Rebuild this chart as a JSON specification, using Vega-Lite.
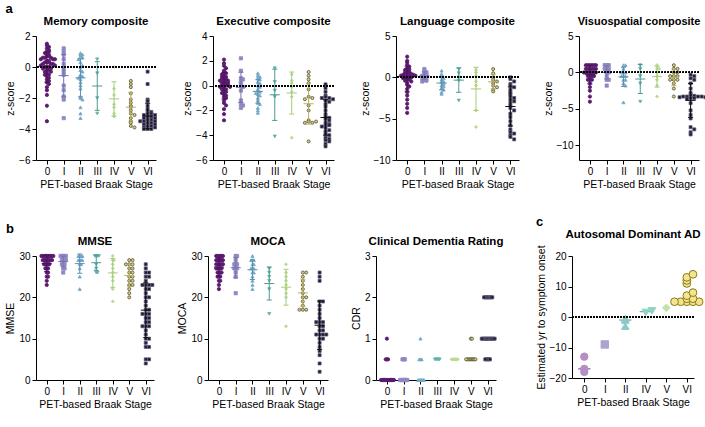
{
"$schema":"https://vega.github.io/schema/vega-lite/v6.json",
"padding":{"left":5,"top":2,"right":2,"bottom":2},
"background":"white",
"config":{"font":"Liberation Sans","view":{"stroke":null},
"axis":{"grid":false,"labelOverlap":false,"domainColor":"#000","tickColor":"#000","labelColor":"#000","titleColor":"#000","labelFontSize":10,"titleFontSize":10.5,"titleFontWeight":"normal","tickSize":4,"labelPadding":2,"titlePadding":3,"domainWidth":1,"tickWidth":1},
"title":{"fontSize":11.5,"fontWeight":"bold","color":"#000","frame":"group","anchor":"middle","offset":4},
"legend":{"disable":true}},
"datasets":{"d":[
{"p":"m","s":"0","v":1.5},{"p":"m","s":"0","v":1.4},{"p":"m","s":"0","v":1.3},{"p":"m","s":"0","v":1.2},{"p":"m","s":"0","v":1.1},{"p":"m","s":"0","v":1.0},{"p":"m","s":"0","v":1.0},{"p":"m","s":"0","v":0.9},{"p":"m","s":"0","v":0.8},{"p":"m","s":"0","v":0.8},{"p":"m","s":"0","v":0.7},{"p":"m","s":"0","v":0.7},{"p":"m","s":"0","v":0.6},{"p":"m","s":"0","v":0.6},{"p":"m","s":"0","v":0.6},{"p":"m","s":"0","v":0.5},{"p":"m","s":"0","v":0.5},{"p":"m","s":"0","v":0.5},{"p":"m","s":"0","v":0.4},{"p":"m","s":"0","v":0.4},{"p":"m","s":"0","v":0.3},{"p":"m","s":"0","v":0.3},{"p":"m","s":"0","v":0.3},{"p":"m","s":"0","v":0.2},{"p":"m","s":"0","v":0.2},{"p":"m","s":"0","v":0.2},{"p":"m","s":"0","v":0.1},{"p":"m","s":"0","v":0.1},{"p":"m","s":"0","v":0.0},{"p":"m","s":"0","v":0.0},{"p":"m","s":"0","v":0.0},{"p":"m","s":"0","v":-0.1},{"p":"m","s":"0","v":-0.1},{"p":"m","s":"0","v":-0.2},{"p":"m","s":"0","v":-0.2},{"p":"m","s":"0","v":-0.3},{"p":"m","s":"0","v":-0.3},{"p":"m","s":"0","v":-0.4},{"p":"m","s":"0","v":-0.5},{"p":"m","s":"0","v":-0.5},{"p":"m","s":"0","v":-0.6},{"p":"m","s":"0","v":-0.7},{"p":"m","s":"0","v":-0.8},{"p":"m","s":"0","v":-0.9},{"p":"m","s":"0","v":-1.0},{"p":"m","s":"0","v":-1.1},{"p":"m","s":"0","v":-1.3},{"p":"m","s":"0","v":-1.5},{"p":"m","s":"0","v":-1.8},{"p":"m","s":"0","v":-2.5},{"p":"m","s":"0","v":-3.5},
{"p":"m","s":"I","v":1.2},{"p":"m","s":"I","v":1.0},{"p":"m","s":"I","v":0.8},{"p":"m","s":"I","v":0.5},{"p":"m","s":"I","v":0.2},{"p":"m","s":"I","v":-0.1},{"p":"m","s":"I","v":-0.3},{"p":"m","s":"I","v":-0.5},{"p":"m","s":"I","v":-1.2},{"p":"m","s":"I","v":-1.5},{"p":"m","s":"I","v":-1.9},{"p":"m","s":"I","v":-2.1},{"p":"m","s":"I","v":-3.3},
{"p":"m","s":"II","v":0.9},{"p":"m","s":"II","v":0.8},{"p":"m","s":"II","v":0.8},{"p":"m","s":"II","v":0.7},{"p":"m","s":"II","v":0.6},{"p":"m","s":"II","v":0.5},{"p":"m","s":"II","v":0.3},{"p":"m","s":"II","v":0.1},{"p":"m","s":"II","v":0.0},{"p":"m","s":"II","v":-0.2},{"p":"m","s":"II","v":-0.3},{"p":"m","s":"II","v":-0.5},{"p":"m","s":"II","v":-0.6},{"p":"m","s":"II","v":-0.6},{"p":"m","s":"II","v":-0.7},{"p":"m","s":"II","v":-0.8},{"p":"m","s":"II","v":-1.0},{"p":"m","s":"II","v":-1.2},{"p":"m","s":"II","v":-1.4},{"p":"m","s":"II","v":-1.9},{"p":"m","s":"II","v":-2.0},{"p":"m","s":"II","v":-2.1},{"p":"m","s":"II","v":-2.6},{"p":"m","s":"II","v":-3.0},{"p":"m","s":"II","v":-3.3},
{"p":"m","s":"III","v":0.5},{"p":"m","s":"III","v":-0.4},{"p":"m","s":"III","v":-2.0},{"p":"m","s":"III","v":-3.0},
{"p":"m","s":"IV","v":0.0},{"p":"m","s":"IV","v":-1.4},{"p":"m","s":"IV","v":-1.8},{"p":"m","s":"IV","v":-2.4},{"p":"m","s":"IV","v":-2.6},{"p":"m","s":"IV","v":-3.0},{"p":"m","s":"IV","v":-3.2},
{"p":"m","s":"V","v":-0.9},{"p":"m","s":"V","v":-1.1},{"p":"m","s":"V","v":-1.3},{"p":"m","s":"V","v":-1.7},{"p":"m","s":"V","v":-2.1},{"p":"m","s":"V","v":-2.3},{"p":"m","s":"V","v":-2.5},{"p":"m","s":"V","v":-2.6},{"p":"m","s":"V","v":-2.8},{"p":"m","s":"V","v":-3.0},{"p":"m","s":"V","v":-3.1},{"p":"m","s":"V","v":-3.3},{"p":"m","s":"V","v":-3.5},{"p":"m","s":"V","v":-3.6},{"p":"m","s":"V","v":-3.8},{"p":"m","s":"V","v":-3.9},
{"p":"m","s":"VI","v":-0.3},{"p":"m","s":"VI","v":-1.1},{"p":"m","s":"VI","v":-2.1},{"p":"m","s":"VI","v":-2.2},{"p":"m","s":"VI","v":-2.5},{"p":"m","s":"VI","v":-2.7},{"p":"m","s":"VI","v":-2.8},{"p":"m","s":"VI","v":-2.9},{"p":"m","s":"VI","v":-3.0},{"p":"m","s":"VI","v":-3.0},{"p":"m","s":"VI","v":-3.1},{"p":"m","s":"VI","v":-3.1},{"p":"m","s":"VI","v":-3.2},{"p":"m","s":"VI","v":-3.2},{"p":"m","s":"VI","v":-3.3},{"p":"m","s":"VI","v":-3.3},{"p":"m","s":"VI","v":-3.4},{"p":"m","s":"VI","v":-3.4},{"p":"m","s":"VI","v":-3.5},{"p":"m","s":"VI","v":-3.5},{"p":"m","s":"VI","v":-3.5},{"p":"m","s":"VI","v":-3.6},{"p":"m","s":"VI","v":-3.6},{"p":"m","s":"VI","v":-3.7},{"p":"m","s":"VI","v":-3.7},{"p":"m","s":"VI","v":-3.8},{"p":"m","s":"VI","v":-3.8},{"p":"m","s":"VI","v":-3.9},{"p":"m","s":"VI","v":-3.9},{"p":"m","s":"VI","v":-4.0},{"p":"m","s":"VI","v":-4.0},{"p":"m","s":"VI","v":-4.0},

{"p":"e","s":"0","v":2.1},{"p":"e","s":"0","v":1.8},{"p":"e","s":"0","v":1.6},{"p":"e","s":"0","v":1.4},{"p":"e","s":"0","v":1.2},{"p":"e","s":"0","v":1.1},{"p":"e","s":"0","v":1.0},{"p":"e","s":"0","v":0.9},{"p":"e","s":"0","v":0.8},{"p":"e","s":"0","v":0.7},{"p":"e","s":"0","v":0.7},{"p":"e","s":"0","v":0.6},{"p":"e","s":"0","v":0.5},{"p":"e","s":"0","v":0.5},{"p":"e","s":"0","v":0.4},{"p":"e","s":"0","v":0.4},{"p":"e","s":"0","v":0.3},{"p":"e","s":"0","v":0.3},{"p":"e","s":"0","v":0.2},{"p":"e","s":"0","v":0.2},{"p":"e","s":"0","v":0.1},{"p":"e","s":"0","v":0.1},{"p":"e","s":"0","v":0.0},{"p":"e","s":"0","v":0.0},{"p":"e","s":"0","v":-0.1},{"p":"e","s":"0","v":-0.1},{"p":"e","s":"0","v":-0.2},{"p":"e","s":"0","v":-0.3},{"p":"e","s":"0","v":-0.3},{"p":"e","s":"0","v":-0.4},{"p":"e","s":"0","v":-0.5},{"p":"e","s":"0","v":-0.6},{"p":"e","s":"0","v":-0.7},{"p":"e","s":"0","v":-0.8},{"p":"e","s":"0","v":-0.9},{"p":"e","s":"0","v":-1.0},{"p":"e","s":"0","v":-1.2},{"p":"e","s":"0","v":-1.4},{"p":"e","s":"0","v":-1.6},{"p":"e","s":"0","v":-1.9},{"p":"e","s":"0","v":-2.3},{"p":"e","s":"0","v":-2.8},
{"p":"e","s":"I","v":2.2},{"p":"e","s":"I","v":1.2},{"p":"e","s":"I","v":0.6},{"p":"e","s":"I","v":0.5},{"p":"e","s":"I","v":0.3},{"p":"e","s":"I","v":0.1},{"p":"e","s":"I","v":-0.1},{"p":"e","s":"I","v":-0.4},{"p":"e","s":"I","v":-1.2},{"p":"e","s":"I","v":-1.5},{"p":"e","s":"I","v":-1.8},{"p":"e","s":"I","v":-1.6},
{"p":"e","s":"II","v":1.0},{"p":"e","s":"II","v":0.8},{"p":"e","s":"II","v":0.7},{"p":"e","s":"II","v":0.6},{"p":"e","s":"II","v":0.5},{"p":"e","s":"II","v":0.3},{"p":"e","s":"II","v":0.2},{"p":"e","s":"II","v":0.0},{"p":"e","s":"II","v":-0.1},{"p":"e","s":"II","v":-0.3},{"p":"e","s":"II","v":-0.4},{"p":"e","s":"II","v":-0.5},{"p":"e","s":"II","v":-0.6},{"p":"e","s":"II","v":-0.7},{"p":"e","s":"II","v":-0.8},{"p":"e","s":"II","v":-1.0},{"p":"e","s":"II","v":-1.2},{"p":"e","s":"II","v":-1.4},{"p":"e","s":"II","v":-1.5},{"p":"e","s":"II","v":-1.8},{"p":"e","s":"II","v":-2.0},{"p":"e","s":"II","v":-2.2},
{"p":"e","s":"III","v":1.4},{"p":"e","s":"III","v":0.3},{"p":"e","s":"III","v":-0.4},{"p":"e","s":"III","v":-0.9},{"p":"e","s":"III","v":-4.1},
{"p":"e","s":"IV","v":0.9},{"p":"e","s":"IV","v":0.4},{"p":"e","s":"IV","v":0.2},{"p":"e","s":"IV","v":-0.1},{"p":"e","s":"IV","v":-0.5},{"p":"e","s":"IV","v":-0.9},{"p":"e","s":"IV","v":-4.2},
{"p":"e","s":"V","v":1.1},{"p":"e","s":"V","v":0.8},{"p":"e","s":"V","v":0.5},{"p":"e","s":"V","v":0.2},{"p":"e","s":"V","v":-0.3},{"p":"e","s":"V","v":-0.9},{"p":"e","s":"V","v":-1.0},{"p":"e","s":"V","v":-1.1},{"p":"e","s":"V","v":-1.6},{"p":"e","s":"V","v":-2.0},{"p":"e","s":"V","v":-2.8},{"p":"e","s":"V","v":-2.9},{"p":"e","s":"V","v":-3.0},{"p":"e","s":"V","v":-3.0},{"p":"e","s":"V","v":-2.9},{"p":"e","s":"V","v":-4.5},
{"p":"e","s":"VI","v":0.1},{"p":"e","s":"VI","v":-0.2},{"p":"e","s":"VI","v":-0.5},{"p":"e","s":"VI","v":-0.8},{"p":"e","s":"VI","v":-0.9},{"p":"e","s":"VI","v":-1.0},{"p":"e","s":"VI","v":-1.0},{"p":"e","s":"VI","v":-1.1},{"p":"e","s":"VI","v":-1.2},{"p":"e","s":"VI","v":-1.3},{"p":"e","s":"VI","v":-1.5},{"p":"e","s":"VI","v":-1.7},{"p":"e","s":"VI","v":-2.0},{"p":"e","s":"VI","v":-2.3},{"p":"e","s":"VI","v":-2.5},{"p":"e","s":"VI","v":-2.6},{"p":"e","s":"VI","v":-2.7},{"p":"e","s":"VI","v":-2.8},{"p":"e","s":"VI","v":-3.0},{"p":"e","s":"VI","v":-3.1},{"p":"e","s":"VI","v":-3.2},{"p":"e","s":"VI","v":-3.2},{"p":"e","s":"VI","v":-3.3},{"p":"e","s":"VI","v":-3.4},{"p":"e","s":"VI","v":-3.6},{"p":"e","s":"VI","v":-3.7},{"p":"e","s":"VI","v":-3.9},{"p":"e","s":"VI","v":-4.0},{"p":"e","s":"VI","v":-4.2},{"p":"e","s":"VI","v":-4.3},{"p":"e","s":"VI","v":-4.4},{"p":"e","s":"VI","v":-4.5},{"p":"e","s":"VI","v":-4.7},{"p":"e","s":"VI","v":-4.9},

{"p":"l","s":"0","v":2.5},{"p":"l","s":"0","v":2.0},{"p":"l","s":"0","v":1.8},{"p":"l","s":"0","v":1.5},{"p":"l","s":"0","v":1.3},{"p":"l","s":"0","v":1.1},{"p":"l","s":"0","v":1.0},{"p":"l","s":"0","v":0.9},{"p":"l","s":"0","v":0.8},{"p":"l","s":"0","v":0.7},{"p":"l","s":"0","v":0.6},{"p":"l","s":"0","v":0.5},{"p":"l","s":"0","v":0.5},{"p":"l","s":"0","v":0.4},{"p":"l","s":"0","v":0.4},{"p":"l","s":"0","v":0.3},{"p":"l","s":"0","v":0.3},{"p":"l","s":"0","v":0.2},{"p":"l","s":"0","v":0.2},{"p":"l","s":"0","v":0.1},{"p":"l","s":"0","v":0.1},{"p":"l","s":"0","v":0.0},{"p":"l","s":"0","v":0.0},{"p":"l","s":"0","v":-0.1},{"p":"l","s":"0","v":-0.2},{"p":"l","s":"0","v":-0.3},{"p":"l","s":"0","v":-0.4},{"p":"l","s":"0","v":-0.5},{"p":"l","s":"0","v":-0.7},{"p":"l","s":"0","v":-0.9},{"p":"l","s":"0","v":-1.1},{"p":"l","s":"0","v":-1.4},{"p":"l","s":"0","v":-1.8},{"p":"l","s":"0","v":-2.2},{"p":"l","s":"0","v":-2.7},{"p":"l","s":"0","v":-3.2},{"p":"l","s":"0","v":-3.7},{"p":"l","s":"0","v":-4.3},
{"p":"l","s":"I","v":1.0},{"p":"l","s":"I","v":0.8},{"p":"l","s":"I","v":0.6},{"p":"l","s":"I","v":0.5},{"p":"l","s":"I","v":0.3},{"p":"l","s":"I","v":0.2},{"p":"l","s":"I","v":0.1},{"p":"l","s":"I","v":0.0},{"p":"l","s":"I","v":-0.1},{"p":"l","s":"I","v":-0.3},{"p":"l","s":"I","v":-0.4},{"p":"l","s":"I","v":-0.5},
{"p":"l","s":"II","v":0.8},{"p":"l","s":"II","v":0.4},{"p":"l","s":"II","v":0.1},{"p":"l","s":"II","v":-0.1},{"p":"l","s":"II","v":-0.3},{"p":"l","s":"II","v":-0.5},{"p":"l","s":"II","v":-0.6},{"p":"l","s":"II","v":-0.8},{"p":"l","s":"II","v":-1.0},{"p":"l","s":"II","v":-1.1},{"p":"l","s":"II","v":-1.3},{"p":"l","s":"II","v":-1.5},{"p":"l","s":"II","v":-1.8},{"p":"l","s":"II","v":-2.0},
{"p":"l","s":"III","v":1.0},{"p":"l","s":"III","v":0.5},{"p":"l","s":"III","v":0.0},{"p":"l","s":"III","v":-0.4},{"p":"l","s":"III","v":-2.8},
{"p":"l","s":"IV","v":0.9},{"p":"l","s":"IV","v":0.6},{"p":"l","s":"IV","v":0.2},{"p":"l","s":"IV","v":-0.5},{"p":"l","s":"IV","v":-1.0},{"p":"l","s":"IV","v":-4.0},{"p":"l","s":"IV","v":-6.0},
{"p":"l","s":"V","v":1.0},{"p":"l","s":"V","v":0.5},{"p":"l","s":"V","v":0.0},{"p":"l","s":"V","v":-0.3},{"p":"l","s":"V","v":-0.5},{"p":"l","s":"V","v":-0.7},{"p":"l","s":"V","v":-1.0},{"p":"l","s":"V","v":-1.2},{"p":"l","s":"V","v":-1.5},{"p":"l","s":"V","v":-1.7},
{"p":"l","s":"VI","v":0.0},{"p":"l","s":"VI","v":-0.2},{"p":"l","s":"VI","v":-0.5},{"p":"l","s":"VI","v":-0.8},{"p":"l","s":"VI","v":-1.0},{"p":"l","s":"VI","v":-1.2},{"p":"l","s":"VI","v":-1.5},{"p":"l","s":"VI","v":-1.8},{"p":"l","s":"VI","v":-2.0},{"p":"l","s":"VI","v":-2.3},{"p":"l","s":"VI","v":-2.5},{"p":"l","s":"VI","v":-2.7},{"p":"l","s":"VI","v":-2.9},{"p":"l","s":"VI","v":-3.1},{"p":"l","s":"VI","v":-3.4},{"p":"l","s":"VI","v":-3.7},{"p":"l","s":"VI","v":-4.0},{"p":"l","s":"VI","v":-4.4},{"p":"l","s":"VI","v":-4.8},{"p":"l","s":"VI","v":-5.3},{"p":"l","s":"VI","v":-5.8},{"p":"l","s":"VI","v":-6.3},{"p":"l","s":"VI","v":-6.6},{"p":"l","s":"VI","v":-6.8},{"p":"l","s":"VI","v":-7.0},{"p":"l","s":"VI","v":-7.2},{"p":"l","s":"VI","v":-7.5},

{"p":"v","s":"0","v":1},{"p":"v","s":"0","v":1},{"p":"v","s":"0","v":1},{"p":"v","s":"0","v":1},{"p":"v","s":"0","v":1},{"p":"v","s":"0","v":1},{"p":"v","s":"0","v":0.5},{"p":"v","s":"0","v":0.5},{"p":"v","s":"0","v":0.5},{"p":"v","s":"0","v":0.5},{"p":"v","s":"0","v":0.5},{"p":"v","s":"0","v":0.5},{"p":"v","s":"0","v":0},{"p":"v","s":"0","v":0},{"p":"v","s":"0","v":0},{"p":"v","s":"0","v":0},{"p":"v","s":"0","v":0},{"p":"v","s":"0","v":0},{"p":"v","s":"0","v":0},{"p":"v","s":"0","v":-0.5},{"p":"v","s":"0","v":-0.5},{"p":"v","s":"0","v":-0.5},{"p":"v","s":"0","v":-0.5},{"p":"v","s":"0","v":-1},{"p":"v","s":"0","v":-1},{"p":"v","s":"0","v":-1},{"p":"v","s":"0","v":-1.5},{"p":"v","s":"0","v":-2},{"p":"v","s":"0","v":-2.5},{"p":"v","s":"0","v":-3.3},{"p":"v","s":"0","v":-4},
{"p":"v","s":"I","v":1},{"p":"v","s":"I","v":1},{"p":"v","s":"I","v":1},{"p":"v","s":"I","v":0.5},{"p":"v","s":"I","v":0.5},{"p":"v","s":"I","v":0.5},{"p":"v","s":"I","v":0},{"p":"v","s":"I","v":0},{"p":"v","s":"I","v":-0.5},{"p":"v","s":"I","v":-1},{"p":"v","s":"I","v":-1},{"p":"v","s":"I","v":-1.8},
{"p":"v","s":"II","v":1},{"p":"v","s":"II","v":1},{"p":"v","s":"II","v":0.5},{"p":"v","s":"II","v":0},{"p":"v","s":"II","v":0},{"p":"v","s":"II","v":0},{"p":"v","s":"II","v":-0.5},{"p":"v","s":"II","v":-0.5},{"p":"v","s":"II","v":-0.5},{"p":"v","s":"II","v":-1},{"p":"v","s":"II","v":-1},{"p":"v","s":"II","v":-1.5},{"p":"v","s":"II","v":-1.8},{"p":"v","s":"II","v":-4.1},
{"p":"v","s":"III","v":1},{"p":"v","s":"III","v":0.5},{"p":"v","s":"III","v":-0.5},{"p":"v","s":"III","v":-1.5},{"p":"v","s":"III","v":-4},
{"p":"v","s":"IV","v":1},{"p":"v","s":"IV","v":0.5},{"p":"v","s":"IV","v":0.5},{"p":"v","s":"IV","v":0},{"p":"v","s":"IV","v":-0.5},{"p":"v","s":"IV","v":-1},{"p":"v","s":"IV","v":-1.8},{"p":"v","s":"IV","v":-3.3},
{"p":"v","s":"V","v":1},{"p":"v","s":"V","v":0.5},{"p":"v","s":"V","v":0.5},{"p":"v","s":"V","v":0},{"p":"v","s":"V","v":0},{"p":"v","s":"V","v":-0.5},{"p":"v","s":"V","v":-0.5},{"p":"v","s":"V","v":-0.5},{"p":"v","s":"V","v":-1},{"p":"v","s":"V","v":-1},{"p":"v","s":"V","v":-1},{"p":"v","s":"V","v":-1.5},{"p":"v","s":"V","v":-2.2},{"p":"v","s":"V","v":-3.3},
{"p":"v","s":"VI","v":-0.3},{"p":"v","s":"VI","v":-0.5},{"p":"v","s":"VI","v":-0.8},{"p":"v","s":"VI","v":-1},{"p":"v","s":"VI","v":-1.5},{"p":"v","s":"VI","v":-2.2},{"p":"v","s":"VI","v":-2.8},{"p":"v","s":"VI","v":-3.1},{"p":"v","s":"VI","v":-3.2},{"p":"v","s":"VI","v":-3.3},{"p":"v","s":"VI","v":-3.3},{"p":"v","s":"VI","v":-3.3},{"p":"v","s":"VI","v":-3.3},{"p":"v","s":"VI","v":-3.4},{"p":"v","s":"VI","v":-3.4},{"p":"v","s":"VI","v":-3.5},{"p":"v","s":"VI","v":-3.5},{"p":"v","s":"VI","v":-3.6},{"p":"v","s":"VI","v":-4.2},{"p":"v","s":"VI","v":-5.2},{"p":"v","s":"VI","v":-5.8},{"p":"v","s":"VI","v":-6.3},{"p":"v","s":"VI","v":-7.5},{"p":"v","s":"VI","v":-7.8},{"p":"v","s":"VI","v":-8.2},{"p":"v","s":"VI","v":-8.5},

{"p":"mm","s":"0","v":30},{"p":"mm","s":"0","v":30},{"p":"mm","s":"0","v":30},{"p":"mm","s":"0","v":30},{"p":"mm","s":"0","v":30},{"p":"mm","s":"0","v":30},{"p":"mm","s":"0","v":30},{"p":"mm","s":"0","v":30},{"p":"mm","s":"0","v":30},{"p":"mm","s":"0","v":30},{"p":"mm","s":"0","v":29},{"p":"mm","s":"0","v":29},{"p":"mm","s":"0","v":29},{"p":"mm","s":"0","v":29},{"p":"mm","s":"0","v":29},{"p":"mm","s":"0","v":29},{"p":"mm","s":"0","v":29},{"p":"mm","s":"0","v":29},{"p":"mm","s":"0","v":28},{"p":"mm","s":"0","v":28},{"p":"mm","s":"0","v":28},{"p":"mm","s":"0","v":28},{"p":"mm","s":"0","v":28},{"p":"mm","s":"0","v":27},{"p":"mm","s":"0","v":27},{"p":"mm","s":"0","v":27},{"p":"mm","s":"0","v":26},{"p":"mm","s":"0","v":26},{"p":"mm","s":"0","v":25},{"p":"mm","s":"0","v":25},{"p":"mm","s":"0","v":24},{"p":"mm","s":"0","v":23},
{"p":"mm","s":"I","v":30},{"p":"mm","s":"I","v":30},{"p":"mm","s":"I","v":30},{"p":"mm","s":"I","v":30},{"p":"mm","s":"I","v":30},{"p":"mm","s":"I","v":29},{"p":"mm","s":"I","v":29},{"p":"mm","s":"I","v":29},{"p":"mm","s":"I","v":29},{"p":"mm","s":"I","v":28},{"p":"mm","s":"I","v":28},{"p":"mm","s":"I","v":28},{"p":"mm","s":"I","v":27},{"p":"mm","s":"I","v":27},{"p":"mm","s":"I","v":26},
{"p":"mm","s":"II","v":30},{"p":"mm","s":"II","v":30},{"p":"mm","s":"II","v":30},{"p":"mm","s":"II","v":30},{"p":"mm","s":"II","v":29},{"p":"mm","s":"II","v":29},{"p":"mm","s":"II","v":29},{"p":"mm","s":"II","v":29},{"p":"mm","s":"II","v":28},{"p":"mm","s":"II","v":28},{"p":"mm","s":"II","v":27},{"p":"mm","s":"II","v":25},{"p":"mm","s":"II","v":22},
{"p":"mm","s":"III","v":30},{"p":"mm","s":"III","v":30},{"p":"mm","s":"III","v":30},{"p":"mm","s":"III","v":30},{"p":"mm","s":"III","v":28},{"p":"mm","s":"III","v":27},{"p":"mm","s":"III","v":26},{"p":"mm","s":"III","v":26},
{"p":"mm","s":"IV","v":30},{"p":"mm","s":"IV","v":29},{"p":"mm","s":"IV","v":29},{"p":"mm","s":"IV","v":28},{"p":"mm","s":"IV","v":27},{"p":"mm","s":"IV","v":26},{"p":"mm","s":"IV","v":25},{"p":"mm","s":"IV","v":24},{"p":"mm","s":"IV","v":22},{"p":"mm","s":"IV","v":19},
{"p":"mm","s":"V","v":29},{"p":"mm","s":"V","v":29},{"p":"mm","s":"V","v":28},{"p":"mm","s":"V","v":28},{"p":"mm","s":"V","v":28},{"p":"mm","s":"V","v":27},{"p":"mm","s":"V","v":27},{"p":"mm","s":"V","v":26},{"p":"mm","s":"V","v":26},{"p":"mm","s":"V","v":25},{"p":"mm","s":"V","v":25},{"p":"mm","s":"V","v":24},{"p":"mm","s":"V","v":24},{"p":"mm","s":"V","v":23},{"p":"mm","s":"V","v":23},{"p":"mm","s":"V","v":22},{"p":"mm","s":"V","v":21},{"p":"mm","s":"V","v":20},
{"p":"mm","s":"VI","v":28},{"p":"mm","s":"VI","v":27},{"p":"mm","s":"VI","v":26},{"p":"mm","s":"VI","v":26},{"p":"mm","s":"VI","v":25},{"p":"mm","s":"VI","v":25},{"p":"mm","s":"VI","v":24},{"p":"mm","s":"VI","v":23},{"p":"mm","s":"VI","v":23},{"p":"mm","s":"VI","v":23},{"p":"mm","s":"VI","v":23},{"p":"mm","s":"VI","v":22},{"p":"mm","s":"VI","v":22},{"p":"mm","s":"VI","v":21},{"p":"mm","s":"VI","v":20},{"p":"mm","s":"VI","v":20},{"p":"mm","s":"VI","v":19},{"p":"mm","s":"VI","v":18},{"p":"mm","s":"VI","v":17},{"p":"mm","s":"VI","v":17},{"p":"mm","s":"VI","v":16},{"p":"mm","s":"VI","v":16},{"p":"mm","s":"VI","v":16},{"p":"mm","s":"VI","v":15},{"p":"mm","s":"VI","v":15},{"p":"mm","s":"VI","v":14},{"p":"mm","s":"VI","v":14},{"p":"mm","s":"VI","v":13},{"p":"mm","s":"VI","v":13},{"p":"mm","s":"VI","v":13},{"p":"mm","s":"VI","v":12},{"p":"mm","s":"VI","v":11},{"p":"mm","s":"VI","v":10},{"p":"mm","s":"VI","v":10},{"p":"mm","s":"VI","v":9},{"p":"mm","s":"VI","v":8},{"p":"mm","s":"VI","v":8},{"p":"mm","s":"VI","v":5},{"p":"mm","s":"VI","v":5},{"p":"mm","s":"VI","v":4},

{"p":"mo","s":"0","v":30},{"p":"mo","s":"0","v":30},{"p":"mo","s":"0","v":30},{"p":"mo","s":"0","v":30},{"p":"mo","s":"0","v":30},{"p":"mo","s":"0","v":30},{"p":"mo","s":"0","v":29},{"p":"mo","s":"0","v":29},{"p":"mo","s":"0","v":29},{"p":"mo","s":"0","v":29},{"p":"mo","s":"0","v":29},{"p":"mo","s":"0","v":29},{"p":"mo","s":"0","v":28},{"p":"mo","s":"0","v":28},{"p":"mo","s":"0","v":28},{"p":"mo","s":"0","v":28},{"p":"mo","s":"0","v":28},{"p":"mo","s":"0","v":28},{"p":"mo","s":"0","v":27},{"p":"mo","s":"0","v":27},{"p":"mo","s":"0","v":27},{"p":"mo","s":"0","v":27},{"p":"mo","s":"0","v":27},{"p":"mo","s":"0","v":26},{"p":"mo","s":"0","v":26},{"p":"mo","s":"0","v":26},{"p":"mo","s":"0","v":26},{"p":"mo","s":"0","v":25},{"p":"mo","s":"0","v":25},{"p":"mo","s":"0","v":25},{"p":"mo","s":"0","v":24},{"p":"mo","s":"0","v":24},{"p":"mo","s":"0","v":23},{"p":"mo","s":"0","v":22},
{"p":"mo","s":"I","v":30},{"p":"mo","s":"I","v":30},{"p":"mo","s":"I","v":29},{"p":"mo","s":"I","v":28},{"p":"mo","s":"I","v":28},{"p":"mo","s":"I","v":28},{"p":"mo","s":"I","v":27},{"p":"mo","s":"I","v":27},{"p":"mo","s":"I","v":27},{"p":"mo","s":"I","v":26},{"p":"mo","s":"I","v":25},{"p":"mo","s":"I","v":21},
{"p":"mo","s":"II","v":30},{"p":"mo","s":"II","v":29},{"p":"mo","s":"II","v":29},{"p":"mo","s":"II","v":29},{"p":"mo","s":"II","v":28},{"p":"mo","s":"II","v":28},{"p":"mo","s":"II","v":27},{"p":"mo","s":"II","v":27},{"p":"mo","s":"II","v":27},{"p":"mo","s":"II","v":26},{"p":"mo","s":"II","v":26},{"p":"mo","s":"II","v":25},{"p":"mo","s":"II","v":24},{"p":"mo","s":"II","v":23},{"p":"mo","s":"II","v":22},
{"p":"mo","s":"III","v":27},{"p":"mo","s":"III","v":26},{"p":"mo","s":"III","v":25},{"p":"mo","s":"III","v":24},{"p":"mo","s":"III","v":22},{"p":"mo","s":"III","v":16},
{"p":"mo","s":"IV","v":28},{"p":"mo","s":"IV","v":26},{"p":"mo","s":"IV","v":25},{"p":"mo","s":"IV","v":24},{"p":"mo","s":"IV","v":23},{"p":"mo","s":"IV","v":22},{"p":"mo","s":"IV","v":21},{"p":"mo","s":"IV","v":20},{"p":"mo","s":"IV","v":13},
{"p":"mo","s":"V","v":26},{"p":"mo","s":"V","v":26},{"p":"mo","s":"V","v":25},{"p":"mo","s":"V","v":24},{"p":"mo","s":"V","v":23},{"p":"mo","s":"V","v":22},{"p":"mo","s":"V","v":21},{"p":"mo","s":"V","v":20},{"p":"mo","s":"V","v":20},{"p":"mo","s":"V","v":19},{"p":"mo","s":"V","v":18},{"p":"mo","s":"V","v":17},{"p":"mo","s":"V","v":17},{"p":"mo","s":"V","v":17},
{"p":"mo","s":"VI","v":26},{"p":"mo","s":"VI","v":25},{"p":"mo","s":"VI","v":24},{"p":"mo","s":"VI","v":19},{"p":"mo","s":"VI","v":19},{"p":"mo","s":"VI","v":18},{"p":"mo","s":"VI","v":17},{"p":"mo","s":"VI","v":16},{"p":"mo","s":"VI","v":15},{"p":"mo","s":"VI","v":14},{"p":"mo","s":"VI","v":14},{"p":"mo","s":"VI","v":14},{"p":"mo","s":"VI","v":13},{"p":"mo","s":"VI","v":13},{"p":"mo","s":"VI","v":12},{"p":"mo","s":"VI","v":12},{"p":"mo","s":"VI","v":11},{"p":"mo","s":"VI","v":11},{"p":"mo","s":"VI","v":11},{"p":"mo","s":"VI","v":11},{"p":"mo","s":"VI","v":10},{"p":"mo","s":"VI","v":10},{"p":"mo","s":"VI","v":9},{"p":"mo","s":"VI","v":8},{"p":"mo","s":"VI","v":7},{"p":"mo","s":"VI","v":6},{"p":"mo","s":"VI","v":4},{"p":"mo","s":"VI","v":2},

{"p":"cd","s":"0","v":0},{"p":"cd","s":"0","v":0},{"p":"cd","s":"0","v":0},{"p":"cd","s":"0","v":0},{"p":"cd","s":"0","v":0},{"p":"cd","s":"0","v":0},{"p":"cd","s":"0","v":0},{"p":"cd","s":"0","v":0},{"p":"cd","s":"0","v":0},{"p":"cd","s":"0","v":0},{"p":"cd","s":"0","v":0},{"p":"cd","s":"0","v":0},{"p":"cd","s":"0","v":0.5},{"p":"cd","s":"0","v":0.5},{"p":"cd","s":"0","v":0.5},{"p":"cd","s":"0","v":1},
{"p":"cd","s":"I","v":0},{"p":"cd","s":"I","v":0},{"p":"cd","s":"I","v":0},{"p":"cd","s":"I","v":0},{"p":"cd","s":"I","v":0},{"p":"cd","s":"I","v":0},{"p":"cd","s":"I","v":0},{"p":"cd","s":"I","v":0.5},{"p":"cd","s":"I","v":0.5},{"p":"cd","s":"I","v":0.5},
{"p":"cd","s":"II","v":0},{"p":"cd","s":"II","v":0},{"p":"cd","s":"II","v":0},{"p":"cd","s":"II","v":0},{"p":"cd","s":"II","v":0},{"p":"cd","s":"II","v":0},{"p":"cd","s":"II","v":0.5},{"p":"cd","s":"II","v":0.5},{"p":"cd","s":"II","v":0.5},{"p":"cd","s":"II","v":1},
{"p":"cd","s":"III","v":0.5},{"p":"cd","s":"III","v":0.5},{"p":"cd","s":"III","v":0.5},{"p":"cd","s":"III","v":0.5},{"p":"cd","s":"III","v":0.5},
{"p":"cd","s":"IV","v":0.5},{"p":"cd","s":"IV","v":0.5},{"p":"cd","s":"IV","v":0.5},{"p":"cd","s":"IV","v":0.5},{"p":"cd","s":"IV","v":0.5},{"p":"cd","s":"IV","v":0.5},
{"p":"cd","s":"V","v":0.5},{"p":"cd","s":"V","v":0.5},{"p":"cd","s":"V","v":0.5},{"p":"cd","s":"V","v":0.5},{"p":"cd","s":"V","v":0.5},{"p":"cd","s":"V","v":0.5},{"p":"cd","s":"V","v":0.5},{"p":"cd","s":"V","v":0.5},{"p":"cd","s":"V","v":0.5},{"p":"cd","s":"V","v":1},{"p":"cd","s":"V","v":1},
{"p":"cd","s":"VI","v":0.5},{"p":"cd","s":"VI","v":0.5},{"p":"cd","s":"VI","v":0.5},{"p":"cd","s":"VI","v":0.5},{"p":"cd","s":"VI","v":0.5},{"p":"cd","s":"VI","v":1},{"p":"cd","s":"VI","v":1},{"p":"cd","s":"VI","v":1},{"p":"cd","s":"VI","v":1},{"p":"cd","s":"VI","v":1},{"p":"cd","s":"VI","v":1},{"p":"cd","s":"VI","v":1},{"p":"cd","s":"VI","v":1},{"p":"cd","s":"VI","v":1},{"p":"cd","s":"VI","v":1},{"p":"cd","s":"VI","v":1},{"p":"cd","s":"VI","v":1},{"p":"cd","s":"VI","v":2},{"p":"cd","s":"VI","v":2},{"p":"cd","s":"VI","v":2},{"p":"cd","s":"VI","v":2},{"p":"cd","s":"VI","v":2},{"p":"cd","s":"VI","v":2},{"p":"cd","s":"VI","v":2},{"p":"cd","s":"VI","v":2},

{"p":"ad","s":"0","v":-13},{"p":"ad","s":"0","v":-17},{"p":"ad","s":"0","v":-18},
{"p":"ad","s":"I","v":-9},
{"p":"ad","s":"II","v":-0.5},{"p":"ad","s":"II","v":-1},{"p":"ad","s":"II","v":-3},
{"p":"ad","s":"IV","v":1.5},{"p":"ad","s":"IV","v":2},
{"p":"ad","s":"V","v":3},
{"p":"ad","s":"VI","v":5},{"p":"ad","s":"VI","v":5},{"p":"ad","s":"VI","v":5},{"p":"ad","s":"VI","v":5},{"p":"ad","s":"VI","v":5},{"p":"ad","s":"VI","v":6},{"p":"ad","s":"VI","v":6},{"p":"ad","s":"VI","v":7},{"p":"ad","s":"VI","v":8},{"p":"ad","s":"VI","v":11},{"p":"ad","s":"VI","v":12},{"p":"ad","s":"VI","v":13},{"p":"ad","s":"VI","v":14}
]},
"resolve":{"scale":{"fill":"independent","stroke":"independent","shape":"independent","size":"independent","color":"independent"}},
"spacing":26,
"vconcat":[
{"title":{"text":"a","anchor":"start","frame":"bounds","fontSize":13,"offset":0},
"spacing":23,
"resolve":{"scale":{"fill":"independent","stroke":"independent","shape":"independent","size":"independent","color":"independent"}},
"hconcat":[
{"width":120,"height":124,"title":"Memory composite","data":{"name":"d"},
"transform":[{"filter":"datum.p=='m'"},{"calculate":"indexof(['0','I','II','III','IV','V','VI'],datum.s)","as":"i"}],
"layer":[
{"transform":[{"calculate":"round(datum.v/0.2)","as":"yb"},{"window":[{"op":"row_number","as":"k"}],"groupby":["s","yb"]},{"calculate":"datum.i+(datum.k%2==0?1:-1)*floor(datum.k/2)*(datum.s=='V'||datum.s=='VI'?0.22:0.12)","as":"xp"}],
"mark":{"type":"point","filled":true,"strokeWidth":0.8,"opacity":1},
"encoding":{
"x":{"field":"xp","type":"quantitative","scale":{"domain":[-0.65,6.5],"nice":false,"zero":false},"axis":{"values":[0,1,2,3,4,5,6],"tickCount":20,"labelExpr":"['0','I','II','III','IV','V','VI'][datum.value]","title":"PET-based Braak Stage"}},
"y":{"field":"v","type":"quantitative","scale":{"domain":[-6,2],"nice":false,"zero":false},"axis":{"values":[-6,-4,-2,0,2],"tickCount":20,"format":"d","title":"z-score"}},
"shape":{"field":"s","type":"nominal","scale":{"domain":["0","I","II","III","IV","V","VI"],"range":["circle","square","triangle-up","triangle-down","diamond","circle","square"]}},
"fill":{"field":"s","type":"nominal","scale":{"domain":["0","I","II","III","IV","V","VI"],"range":["#5b1a6e","#8f89c3","#74a8c6","#5fb4aa","#b7da8e","#d4cd8c","#1d1430"]}},
"stroke":{"field":"s","type":"nominal","scale":{"domain":["0","I","II","III","IV","V","VI"],"range":["#5b1a6e","#8f89c3","#74a8c6","#5fb4aa","#b7da8e","#56512c","#5e5874"]}},
"size":{"field":"s","type":"ordinal","scale":{"domain":["0","I","II","III","IV","V","VI"],"range":[11,9,9,9,9,18,22]}}}},
{"transform":[{"aggregate":[{"op":"mean","field":"v","as":"m"},{"op":"stdev","field":"v","as":"sd"}],"groupby":["s","i"]},{"calculate":"datum.m-datum.sd","as":"lo"},{"calculate":"datum.m+datum.sd","as":"hi"}],
"layer":[
{"mark":{"type":"rule","strokeWidth":1},"encoding":{"x":{"field":"i","type":"quantitative"},"y":{"field":"lo","type":"quantitative"},"y2":{"field":"hi"},"color":{"field":"s","type":"nominal","scale":{"domain":["0","I","II","III","IV","V","VI"],"range":["#4a135c","#7873b0","#5b90b0","#4a9b92","#a5cc7c","#b8b060","#111111"]}}}},
{"transform":[{"fold":["lo","m","hi"]},{"calculate":"datum.i-(datum.key=='m'?0.3:0.15)","as":"xa"},{"calculate":"datum.i+(datum.key=='m'?0.3:0.15)","as":"xb"}],"mark":{"type":"rule","strokeWidth":1},"encoding":{"x":{"field":"xa","type":"quantitative"},"x2":{"field":"xb"},"y":{"field":"value","type":"quantitative"},"color":{"field":"s","type":"nominal","scale":{"domain":["0","I","II","III","IV","V","VI"],"range":["#4a135c","#7873b0","#5b90b0","#4a9b92","#a5cc7c","#b8b060","#111111"]}}}}]},
{"mark":{"type":"rule","strokeDash":[1.5,1.5],"color":"#000","strokeWidth":1},"encoding":{"y":{"datum":0}}}
]},
{"width":121,"height":124,"title":"Executive composite","data":{"name":"d"},
"transform":[{"filter":"datum.p=='e'"},{"calculate":"indexof(['0','I','II','III','IV','V','VI'],datum.s)","as":"i"}],
"layer":[
{"transform":[{"calculate":"round(datum.v/0.25)","as":"yb"},{"window":[{"op":"row_number","as":"k"}],"groupby":["s","yb"]},{"calculate":"datum.i+(datum.k%2==0?1:-1)*floor(datum.k/2)*(datum.s=='V'||datum.s=='VI'?0.22:0.12)","as":"xp"}],
"mark":{"type":"point","filled":true,"strokeWidth":0.8,"opacity":1},
"encoding":{
"x":{"field":"xp","type":"quantitative","scale":{"domain":[-0.65,6.5],"nice":false,"zero":false},"axis":{"values":[0,1,2,3,4,5,6],"tickCount":20,"labelExpr":"['0','I','II','III','IV','V','VI'][datum.value]","title":"PET-based Braak Stage"}},
"y":{"field":"v","type":"quantitative","scale":{"domain":[-6,4],"nice":false,"zero":false},"axis":{"values":[-6,-4,-2,0,2,4],"tickCount":20,"format":"d","title":"z-score"}},
"shape":{"field":"s","type":"nominal","scale":{"domain":["0","I","II","III","IV","V","VI"],"range":["circle","square","triangle-up","triangle-down","diamond","circle","square"]}},
"fill":{"field":"s","type":"nominal","scale":{"domain":["0","I","II","III","IV","V","VI"],"range":["#5b1a6e","#8f89c3","#74a8c6","#5fb4aa","#b7da8e","#d4cd8c","#1d1430"]}},
"stroke":{"field":"s","type":"nominal","scale":{"domain":["0","I","II","III","IV","V","VI"],"range":["#5b1a6e","#8f89c3","#74a8c6","#5fb4aa","#b7da8e","#56512c","#5e5874"]}},
"size":{"field":"s","type":"ordinal","scale":{"domain":["0","I","II","III","IV","V","VI"],"range":[11,9,9,9,9,18,22]}}}},
{"transform":[{"aggregate":[{"op":"mean","field":"v","as":"m"},{"op":"stdev","field":"v","as":"sd"}],"groupby":["s","i"]},{"calculate":"datum.m-datum.sd","as":"lo"},{"calculate":"datum.m+datum.sd","as":"hi"}],
"layer":[
{"mark":{"type":"rule","strokeWidth":1},"encoding":{"x":{"field":"i","type":"quantitative"},"y":{"field":"lo","type":"quantitative"},"y2":{"field":"hi"},"color":{"field":"s","type":"nominal","scale":{"domain":["0","I","II","III","IV","V","VI"],"range":["#4a135c","#7873b0","#5b90b0","#4a9b92","#a5cc7c","#b8b060","#111111"]}}}},
{"transform":[{"fold":["lo","m","hi"]},{"calculate":"datum.i-(datum.key=='m'?0.3:0.15)","as":"xa"},{"calculate":"datum.i+(datum.key=='m'?0.3:0.15)","as":"xb"}],"mark":{"type":"rule","strokeWidth":1},"encoding":{"x":{"field":"xa","type":"quantitative"},"x2":{"field":"xb"},"y":{"field":"value","type":"quantitative"},"color":{"field":"s","type":"nominal","scale":{"domain":["0","I","II","III","IV","V","VI"],"range":["#4a135c","#7873b0","#5b90b0","#4a9b92","#a5cc7c","#b8b060","#111111"]}}}}]},
{"mark":{"type":"rule","strokeDash":[1.5,1.5],"color":"#000","strokeWidth":1},"encoding":{"y":{"datum":0}}}
]},
{"width":123,"height":124,"title":"Language composite","data":{"name":"d"},
"transform":[{"filter":"datum.p=='l'"},{"calculate":"indexof(['0','I','II','III','IV','V','VI'],datum.s)","as":"i"}],
"layer":[
{"transform":[{"calculate":"round(datum.v/0.35)","as":"yb"},{"window":[{"op":"row_number","as":"k"}],"groupby":["s","yb"]},{"calculate":"datum.i+(datum.k%2==0?1:-1)*floor(datum.k/2)*(datum.s=='V'||datum.s=='VI'?0.22:0.12)","as":"xp"}],
"mark":{"type":"point","filled":true,"strokeWidth":0.8,"opacity":1},
"encoding":{
"x":{"field":"xp","type":"quantitative","scale":{"domain":[-0.65,6.5],"nice":false,"zero":false},"axis":{"values":[0,1,2,3,4,5,6],"tickCount":20,"labelExpr":"['0','I','II','III','IV','V','VI'][datum.value]","title":"PET-based Braak Stage"}},
"y":{"field":"v","type":"quantitative","scale":{"domain":[-10,5],"nice":false,"zero":false},"axis":{"values":[-10,-5,0,5],"tickCount":20,"format":"d","title":"z-score"}},
"shape":{"field":"s","type":"nominal","scale":{"domain":["0","I","II","III","IV","V","VI"],"range":["circle","square","triangle-up","triangle-down","diamond","circle","square"]}},
"fill":{"field":"s","type":"nominal","scale":{"domain":["0","I","II","III","IV","V","VI"],"range":["#5b1a6e","#8f89c3","#74a8c6","#5fb4aa","#b7da8e","#d4cd8c","#1d1430"]}},
"stroke":{"field":"s","type":"nominal","scale":{"domain":["0","I","II","III","IV","V","VI"],"range":["#5b1a6e","#8f89c3","#74a8c6","#5fb4aa","#b7da8e","#56512c","#5e5874"]}},
"size":{"field":"s","type":"ordinal","scale":{"domain":["0","I","II","III","IV","V","VI"],"range":[11,9,9,9,9,18,22]}}}},
{"transform":[{"aggregate":[{"op":"mean","field":"v","as":"m"},{"op":"stdev","field":"v","as":"sd"}],"groupby":["s","i"]},{"calculate":"datum.m-datum.sd","as":"lo"},{"calculate":"datum.m+datum.sd","as":"hi"}],
"layer":[
{"mark":{"type":"rule","strokeWidth":1},"encoding":{"x":{"field":"i","type":"quantitative"},"y":{"field":"lo","type":"quantitative"},"y2":{"field":"hi"},"color":{"field":"s","type":"nominal","scale":{"domain":["0","I","II","III","IV","V","VI"],"range":["#4a135c","#7873b0","#5b90b0","#4a9b92","#a5cc7c","#b8b060","#111111"]}}}},
{"transform":[{"fold":["lo","m","hi"]},{"calculate":"datum.i-(datum.key=='m'?0.3:0.15)","as":"xa"},{"calculate":"datum.i+(datum.key=='m'?0.3:0.15)","as":"xb"}],"mark":{"type":"rule","strokeWidth":1},"encoding":{"x":{"field":"xa","type":"quantitative"},"x2":{"field":"xb"},"y":{"field":"value","type":"quantitative"},"color":{"field":"s","type":"nominal","scale":{"domain":["0","I","II","III","IV","V","VI"],"range":["#4a135c","#7873b0","#5b90b0","#4a9b92","#a5cc7c","#b8b060","#111111"]}}}}]},
{"mark":{"type":"rule","strokeDash":[1.5,1.5],"color":"#000","strokeWidth":1},"encoding":{"y":{"datum":0}}}
]},
{"width":120,"height":124,"title":{"text":"Visuospatial composite","fontSize":11},"data":{"name":"d"},
"transform":[{"filter":"datum.p=='v'"},{"calculate":"indexof(['0','I','II','III','IV','V','VI'],datum.s)","as":"i"}],
"layer":[
{"transform":[{"calculate":"round(datum.v/0.4)","as":"yb"},{"window":[{"op":"row_number","as":"k"}],"groupby":["s","yb"]},{"calculate":"datum.i+(datum.k%2==0?1:-1)*floor(datum.k/2)*(datum.s=='V'||datum.s=='VI'?0.22:0.12)","as":"xp"}],
"mark":{"type":"point","filled":true,"strokeWidth":0.8,"opacity":1},
"encoding":{
"x":{"field":"xp","type":"quantitative","scale":{"domain":[-0.65,6.5],"nice":false,"zero":false},"axis":{"values":[0,1,2,3,4,5,6],"tickCount":20,"labelExpr":"['0','I','II','III','IV','V','VI'][datum.value]","title":"PET-based Braak Stage"}},
"y":{"field":"v","type":"quantitative","scale":{"domain":[-12,5],"nice":false,"zero":false},"axis":{"values":[-10,-5,0,5],"tickCount":20,"format":"d","title":"z-score"}},
"shape":{"field":"s","type":"nominal","scale":{"domain":["0","I","II","III","IV","V","VI"],"range":["circle","square","triangle-up","triangle-down","diamond","circle","square"]}},
"fill":{"field":"s","type":"nominal","scale":{"domain":["0","I","II","III","IV","V","VI"],"range":["#5b1a6e","#8f89c3","#74a8c6","#5fb4aa","#b7da8e","#d4cd8c","#1d1430"]}},
"stroke":{"field":"s","type":"nominal","scale":{"domain":["0","I","II","III","IV","V","VI"],"range":["#5b1a6e","#8f89c3","#74a8c6","#5fb4aa","#b7da8e","#56512c","#5e5874"]}},
"size":{"field":"s","type":"ordinal","scale":{"domain":["0","I","II","III","IV","V","VI"],"range":[11,9,9,9,9,18,22]}}}},
{"transform":[{"aggregate":[{"op":"mean","field":"v","as":"m"},{"op":"stdev","field":"v","as":"sd"}],"groupby":["s","i"]},{"calculate":"datum.m-datum.sd","as":"lo"},{"calculate":"datum.m+datum.sd","as":"hi"}],
"layer":[
{"mark":{"type":"rule","strokeWidth":1},"encoding":{"x":{"field":"i","type":"quantitative"},"y":{"field":"lo","type":"quantitative"},"y2":{"field":"hi"},"color":{"field":"s","type":"nominal","scale":{"domain":["0","I","II","III","IV","V","VI"],"range":["#4a135c","#7873b0","#5b90b0","#4a9b92","#a5cc7c","#b8b060","#111111"]}}}},
{"transform":[{"fold":["lo","m","hi"]},{"calculate":"datum.i-(datum.key=='m'?0.3:0.15)","as":"xa"},{"calculate":"datum.i+(datum.key=='m'?0.3:0.15)","as":"xb"}],"mark":{"type":"rule","strokeWidth":1},"encoding":{"x":{"field":"xa","type":"quantitative"},"x2":{"field":"xb"},"y":{"field":"value","type":"quantitative"},"color":{"field":"s","type":"nominal","scale":{"domain":["0","I","II","III","IV","V","VI"],"range":["#4a135c","#7873b0","#5b90b0","#4a9b92","#a5cc7c","#b8b060","#111111"]}}}}]},
{"mark":{"type":"rule","strokeDash":[1.5,1.5],"color":"#000","strokeWidth":1},"encoding":{"y":{"datum":0}}}
]}
]},
{"spacing":32,
"resolve":{"scale":{"fill":"independent","stroke":"independent","shape":"independent","size":"independent","color":"independent"}},
"hconcat":[
{"title":{"text":"b","anchor":"start","frame":"bounds","fontSize":13,"offset":0},
"spacing":21,
"resolve":{"scale":{"fill":"independent","stroke":"independent","shape":"independent","size":"independent","color":"independent"}},
"hconcat":[
{"width":118,"height":124,"title":"MMSE","data":{"name":"d"},
"transform":[{"filter":"datum.p=='mm'"},{"calculate":"indexof(['0','I','II','III','IV','V','VI'],datum.s)","as":"i"}],
"layer":[
{"transform":[{"calculate":"round(datum.v)","as":"yb"},{"window":[{"op":"row_number","as":"k"}],"groupby":["s","yb"]},{"calculate":"datum.i+(datum.k%2==0?1:-1)*floor(datum.k/2)*(datum.s=='V'||datum.s=='VI'?0.2:0.08)","as":"xp"}],
"mark":{"type":"point","filled":true,"strokeWidth":0.8,"opacity":1},
"encoding":{
"x":{"field":"xp","type":"quantitative","scale":{"domain":[-0.65,6.5],"nice":false,"zero":false},"axis":{"values":[0,1,2,3,4,5,6],"tickCount":20,"labelExpr":"['0','I','II','III','IV','V','VI'][datum.value]","title":"PET-based Braak Stage"}},
"y":{"field":"v","type":"quantitative","scale":{"domain":[0,30],"nice":false,"zero":false},"axis":{"values":[0,10,20,30],"tickCount":20,"format":"d","title":"MMSE"}},
"shape":{"field":"s","type":"nominal","scale":{"domain":["0","I","II","III","IV","V","VI"],"range":["circle","square","triangle-up","triangle-down","diamond","circle","square"]}},
"fill":{"field":"s","type":"nominal","scale":{"domain":["0","I","II","III","IV","V","VI"],"range":["#5b1a6e","#8f89c3","#74a8c6","#5fb4aa","#b7da8e","#d4cd8c","#1d1430"]}},
"stroke":{"field":"s","type":"nominal","scale":{"domain":["0","I","II","III","IV","V","VI"],"range":["#5b1a6e","#8f89c3","#74a8c6","#5fb4aa","#b7da8e","#56512c","#5e5874"]}},
"size":{"field":"s","type":"ordinal","scale":{"domain":["0","I","II","III","IV","V","VI"],"range":[11,9,9,9,9,18,22]}}}},
{"transform":[{"aggregate":[{"op":"mean","field":"v","as":"m"},{"op":"stdev","field":"v","as":"sd"}],"groupby":["s","i"]},{"calculate":"datum.m-datum.sd","as":"lo"},{"calculate":"datum.m+datum.sd","as":"hi"}],
"layer":[
{"mark":{"type":"rule","strokeWidth":1},"encoding":{"x":{"field":"i","type":"quantitative"},"y":{"field":"lo","type":"quantitative"},"y2":{"field":"hi"},"color":{"field":"s","type":"nominal","scale":{"domain":["0","I","II","III","IV","V","VI"],"range":["#4a135c","#7873b0","#5b90b0","#4a9b92","#a5cc7c","#b8b060","#111111"]}}}},
{"transform":[{"fold":["lo","m","hi"]},{"calculate":"datum.i-(datum.key=='m'?0.3:0.15)","as":"xa"},{"calculate":"datum.i+(datum.key=='m'?0.3:0.15)","as":"xb"}],"mark":{"type":"rule","strokeWidth":1},"encoding":{"x":{"field":"xa","type":"quantitative"},"x2":{"field":"xb"},"y":{"field":"value","type":"quantitative"},"color":{"field":"s","type":"nominal","scale":{"domain":["0","I","II","III","IV","V","VI"],"range":["#4a135c","#7873b0","#5b90b0","#4a9b92","#a5cc7c","#b8b060","#111111"]}}}}]}
]},
{"width":120,"height":124,"title":"MOCA","data":{"name":"d"},
"transform":[{"filter":"datum.p=='mo'"},{"calculate":"indexof(['0','I','II','III','IV','V','VI'],datum.s)","as":"i"}],
"layer":[
{"transform":[{"calculate":"round(datum.v)","as":"yb"},{"window":[{"op":"row_number","as":"k"}],"groupby":["s","yb"]},{"calculate":"datum.i+(datum.k%2==0?1:-1)*floor(datum.k/2)*(datum.s=='V'||datum.s=='VI'?0.2:0.08)","as":"xp"}],
"mark":{"type":"point","filled":true,"strokeWidth":0.8,"opacity":1},
"encoding":{
"x":{"field":"xp","type":"quantitative","scale":{"domain":[-0.65,6.5],"nice":false,"zero":false},"axis":{"values":[0,1,2,3,4,5,6],"tickCount":20,"labelExpr":"['0','I','II','III','IV','V','VI'][datum.value]","title":"PET-based Braak Stage"}},
"y":{"field":"v","type":"quantitative","scale":{"domain":[0,30],"nice":false,"zero":false},"axis":{"values":[0,10,20,30],"tickCount":20,"format":"d","title":"MOCA"}},
"shape":{"field":"s","type":"nominal","scale":{"domain":["0","I","II","III","IV","V","VI"],"range":["circle","square","triangle-up","triangle-down","diamond","circle","square"]}},
"fill":{"field":"s","type":"nominal","scale":{"domain":["0","I","II","III","IV","V","VI"],"range":["#5b1a6e","#8f89c3","#74a8c6","#5fb4aa","#b7da8e","#d4cd8c","#1d1430"]}},
"stroke":{"field":"s","type":"nominal","scale":{"domain":["0","I","II","III","IV","V","VI"],"range":["#5b1a6e","#8f89c3","#74a8c6","#5fb4aa","#b7da8e","#56512c","#5e5874"]}},
"size":{"field":"s","type":"ordinal","scale":{"domain":["0","I","II","III","IV","V","VI"],"range":[11,9,9,9,9,18,22]}}}},
{"transform":[{"aggregate":[{"op":"mean","field":"v","as":"m"},{"op":"stdev","field":"v","as":"sd"}],"groupby":["s","i"]},{"calculate":"datum.m-datum.sd","as":"lo"},{"calculate":"datum.m+datum.sd","as":"hi"}],
"layer":[
{"mark":{"type":"rule","strokeWidth":1},"encoding":{"x":{"field":"i","type":"quantitative"},"y":{"field":"lo","type":"quantitative"},"y2":{"field":"hi"},"color":{"field":"s","type":"nominal","scale":{"domain":["0","I","II","III","IV","V","VI"],"range":["#4a135c","#7873b0","#5b90b0","#4a9b92","#a5cc7c","#b8b060","#111111"]}}}},
{"transform":[{"fold":["lo","m","hi"]},{"calculate":"datum.i-(datum.key=='m'?0.3:0.15)","as":"xa"},{"calculate":"datum.i+(datum.key=='m'?0.3:0.15)","as":"xb"}],"mark":{"type":"rule","strokeWidth":1},"encoding":{"x":{"field":"xa","type":"quantitative"},"x2":{"field":"xb"},"y":{"field":"value","type":"quantitative"},"color":{"field":"s","type":"nominal","scale":{"domain":["0","I","II","III","IV","V","VI"],"range":["#4a135c","#7873b0","#5b90b0","#4a9b92","#a5cc7c","#b8b060","#111111"]}}}}]}
]},
{"width":120,"height":124,"title":"Clinical Dementia Rating","data":{"name":"d"},
"transform":[{"filter":"datum.p=='cd'"},{"calculate":"indexof(['0','I','II','III','IV','V','VI'],datum.s)","as":"i"}],
"layer":[
{"transform":[{"calculate":"round(datum.v*4)","as":"yb"},{"window":[{"op":"row_number","as":"k"}],"groupby":["s","yb"]},{"calculate":"datum.i+(datum.k%2==0?1:-1)*floor(datum.k/2)*0.07","as":"xp"}],
"mark":{"type":"point","filled":true,"strokeWidth":0.8,"opacity":1},
"encoding":{
"x":{"field":"xp","type":"quantitative","scale":{"domain":[-0.65,6.5],"nice":false,"zero":false},"axis":{"values":[0,1,2,3,4,5,6],"tickCount":20,"labelExpr":"['0','I','II','III','IV','V','VI'][datum.value]","title":"PET-based Braak Stage"}},
"y":{"field":"v","type":"quantitative","scale":{"domain":[0,3],"nice":false,"zero":false},"axis":{"values":[0,1,2,3],"tickCount":20,"format":"d","title":"CDR"}},
"shape":{"field":"s","type":"nominal","scale":{"domain":["0","I","II","III","IV","V","VI"],"range":["circle","square","triangle-up","triangle-down","diamond","circle","square"]}},
"fill":{"field":"s","type":"nominal","scale":{"domain":["0","I","II","III","IV","V","VI"],"range":["#5b1a6e","#8f89c3","#74a8c6","#5fb4aa","#b7da8e","#d4cd8c","#1d1430"]}},
"stroke":{"field":"s","type":"nominal","scale":{"domain":["0","I","II","III","IV","V","VI"],"range":["#5b1a6e","#8f89c3","#74a8c6","#5fb4aa","#b7da8e","#56512c","#5e5874"]}},
"size":{"field":"s","type":"ordinal","scale":{"domain":["0","I","II","III","IV","V","VI"],"range":[11,9,9,9,9,18,22]}}}}
]}
]},
{"title":{"text":"c","anchor":"start","frame":"bounds","fontSize":13,"offset":0},
"resolve":{"scale":{"fill":"independent","stroke":"independent","shape":"independent","size":"independent","color":"independent"}},
"vconcat":[
{"width":122,"height":122,"title":"Autosomal Dominant AD","data":{"name":"d"},
"transform":[{"filter":"datum.p=='ad'"},{"calculate":"indexof(['0','I','II','IV','V','VI'],datum.s)","as":"i"}],
"layer":[
{"transform":[{"aggregate":[{"op":"median","field":"v","as":"m"},{"op":"count","as":"n"}],"groupby":["s","i"]},{"filter":"datum.n>1"},{"calculate":"datum.i-0.3","as":"xa"},{"calculate":"datum.i+0.3","as":"xb"}],
"mark":{"type":"rule","strokeWidth":1.2},"encoding":{"x":{"field":"xa","type":"quantitative"},"x2":{"field":"xb"},"y":{"field":"m","type":"quantitative"},"color":{"field":"s","type":"nominal","scale":{"domain":["0","I","II","IV","V","VI"],"range":["#8a5a9e","#8f89c3","#6aaab0","#6aaab0","#9cc98a","#8a7a1a"]}}}},
{"transform":[{"calculate":"round(datum.v/1.5)","as":"yb"},{"window":[{"op":"row_number","as":"k"}],"groupby":["s","yb"]},{"calculate":"datum.i+(datum.k%2==0?1:-1)*floor(datum.k/2)*0.3","as":"xp"}],
"mark":{"type":"point","filled":true,"strokeWidth":1,"opacity":1},
"encoding":{
"x":{"field":"xp","type":"quantitative","scale":{"domain":[-0.6,5.35],"nice":false,"zero":false},"axis":{"values":[0,1,2,3,4,5],"tickCount":20,"labelExpr":"['0','I','II','IV','V','VI'][datum.value]","title":"PET-based Braak Stage"}},
"y":{"field":"v","type":"quantitative","scale":{"domain":[-20,20],"nice":false,"zero":false},"axis":{"values":[-20,-10,0,10,20],"tickCount":20,"format":"d","title":"Estimated yr to symptom onset"}},
"shape":{"field":"s","type":"nominal","scale":{"domain":["0","I","II","IV","V","VI"],"range":["circle","square","triangle-up","triangle-down","diamond","circle"]}},
"fill":{"field":"s","type":"nominal","scale":{"domain":["0","I","II","IV","V","VI"],"range":["#b48fc4","#aaa5d0","#8ccac6","#8fd3c4","#c2e4a8","#f3e48e"]}},
"stroke":{"field":"s","type":"nominal","scale":{"domain":["0","I","II","IV","V","VI"],"range":["#b48fc4","#aaa5d0","#8ccac6","#8fd3c4","#c2e4a8","#8a7a1a"]}},
"size":{"field":"s","type":"ordinal","scale":{"domain":["0","I","II","IV","V","VI"],"range":[55,60,45,45,35,85]}}}},
{"mark":{"type":"rule","strokeDash":[1.5,1.5],"color":"#000","strokeWidth":1},"encoding":{"y":{"datum":0}}}
]}
]}
]}
]}
